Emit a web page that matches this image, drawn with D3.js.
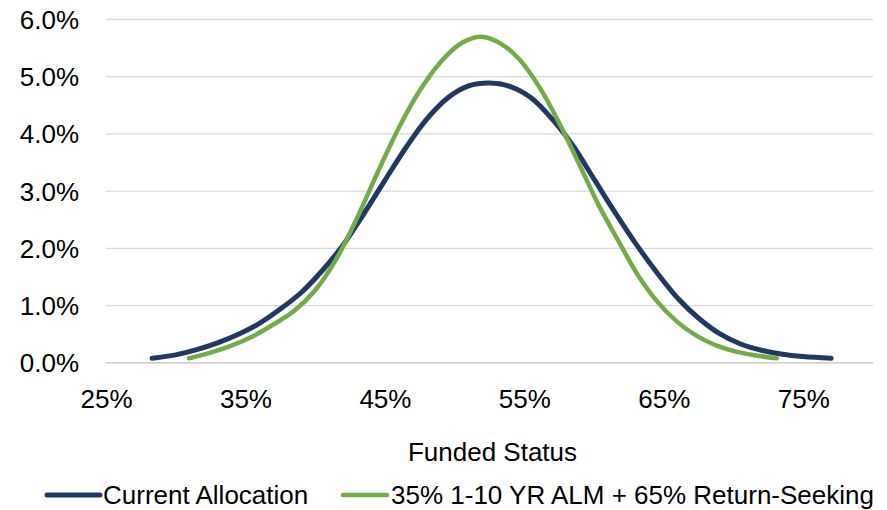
<!DOCTYPE html>
<html>
<head>
<meta charset="utf-8">
<script src="https://cdn.jsdelivr.net/npm/d3@7"></script>
<style>
  html, body { margin: 0; padding: 0; background: #fff; }
  svg text { font-family: "Liberation Sans", Arial, sans-serif; fill: #000; }
</style>
</head>
<body>
<svg id="chart" width="887" height="510"></svg>
<script>
// Funded status distribution (x = funded status %, y = probability %)
const seriesNames = ["Current Allocation", "35% 1-10 YR ALM + 65% Return-Seeking"];
const seriesColors = ["#1f3864", "#70ad47"];

const currentX = [28.3, 30.0, 31.5, 33.0, 34.5, 36.0, 37.5, 39.0, 40.5, 42.0, 43.5, 45.0, 46.5, 48.0, 49.5, 51.0, 52.5,
                  54.0, 55.5, 57.0, 58.5, 60.0, 61.5, 63.0, 64.5, 66.0, 67.5, 69.0, 70.5, 72.0, 73.5, 75.0, 77.0];
const currentY = [0.07, 0.13, 0.22, 0.34, 0.49, 0.68, 0.93, 1.22, 1.60, 2.05, 2.60, 3.18, 3.75, 4.25, 4.62, 4.83, 4.88,
                  4.82, 4.62, 4.25, 3.78, 3.20, 2.62, 2.07, 1.57, 1.12, 0.77, 0.50, 0.32, 0.21, 0.14, 0.10, 0.07];

const blendX = [30.95, 32.5, 34.0, 35.5, 37.0, 38.5, 40.0, 41.5, 43.0, 44.5, 46.0, 47.5, 49.0, 50.5, 51.9,
                53.3, 54.7, 56.1, 57.5, 58.9, 60.3, 61.7, 63.1, 64.5, 65.9, 67.3, 68.7, 70.1, 71.6, 73.1];
const blendY = [0.07, 0.17, 0.29, 0.45, 0.66, 0.90, 1.26, 1.80, 2.52, 3.33, 4.10, 4.75, 5.25, 5.58, 5.69,
                5.57, 5.28, 4.80, 4.18, 3.48, 2.76, 2.14, 1.54, 1.07, 0.72, 0.47, 0.30, 0.19, 0.12, 0.07];

const xTicks = [25, 35, 45, 55, 65, 75];
const yTicks = [0, 1, 2, 3, 4, 5, 6];
const xTitle = "Funded Status";

const svg = d3.select("#chart");
const plotLeft = 106, plotRight = 873, plotTop = 19, plotBottom = 362.3;

const x = d3.scaleLinear().domain([25, 80]).range([plotLeft, plotRight]);
const y = d3.scaleLinear().domain([0, 6]).range([plotBottom, plotTop]);

// horizontal gridlines
const grid = svg.append("g").attr("transform", `translate(${plotLeft},0)`)
  .call(d3.axisLeft(y).tickValues(yTicks).tickSize(-(plotRight - plotLeft)).tickFormat(""));
grid.select(".domain").remove();
grid.selectAll(".tick line")
  .attr("stroke", d => d === 0 ? "#bfbfbf" : "#d9d9d9")
  .attr("stroke-width", 1.3);

// y axis labels
const yAxis = svg.append("g").attr("transform", `translate(79,0)`)
  .call(d3.axisLeft(y).tickValues(yTicks).tickSize(0).tickPadding(0).tickFormat(d => d.toFixed(1) + "%"));
yAxis.select(".domain").remove();
yAxis.selectAll("text").attr("font-size", 26).attr("dy", "0.36em").attr("x", 0);

// x axis labels
const xAxis = svg.append("g").attr("transform", `translate(0,399)`)
  .call(d3.axisBottom(x).tickValues(xTicks).tickSize(0).tickPadding(0).tickFormat(d => d + "%"));
xAxis.select(".domain").remove();
xAxis.selectAll("text").attr("font-size", 26).attr("dy", "0.36em").attr("y", 0);

// x axis title
svg.append("text").attr("x", 492.5).attr("y", 452).attr("dy", "0.36em")
  .attr("text-anchor", "middle").attr("font-size", 26).text(xTitle);

// curves
const line = d3.line().x(d => x(d[0])).y(d => y(d[1])).curve(d3.curveCatmullRom.alpha(0.5));
const series = [
  { name: seriesNames[0], color: seriesColors[0], width: 5, pts: d3.zip(currentX, currentY) },
  { name: seriesNames[1], color: seriesColors[1], width: 4.5, pts: d3.zip(blendX, blendY) }
];
svg.append("g").selectAll("path").data(series).join("path")
  .attr("d", d => line(d.pts))
  .attr("fill", "none")
  .attr("stroke", d => d.color)
  .attr("stroke-width", d => d.width)
  .attr("stroke-linecap", "round")
  .attr("stroke-linejoin", "round");

// legend
const legendY = 495;
const legendItems = [
  { s: series[0], x0: 47, x1: 100, tx: 103 },
  { s: series[1], x0: 343, x1: 387, tx: 391 }
];
const lg = svg.append("g");
legendItems.forEach(it => {
  lg.append("line").attr("x1", it.x0).attr("x2", it.x1).attr("y1", legendY).attr("y2", legendY)
    .attr("stroke", it.s.color).attr("stroke-width", it.s.width).attr("stroke-linecap", "round");
  lg.append("text").attr("x", it.tx).attr("y", legendY).attr("dy", "0.36em")
    .attr("font-size", 26).text(it.s.name);
});
</script>
</body>
</html>
